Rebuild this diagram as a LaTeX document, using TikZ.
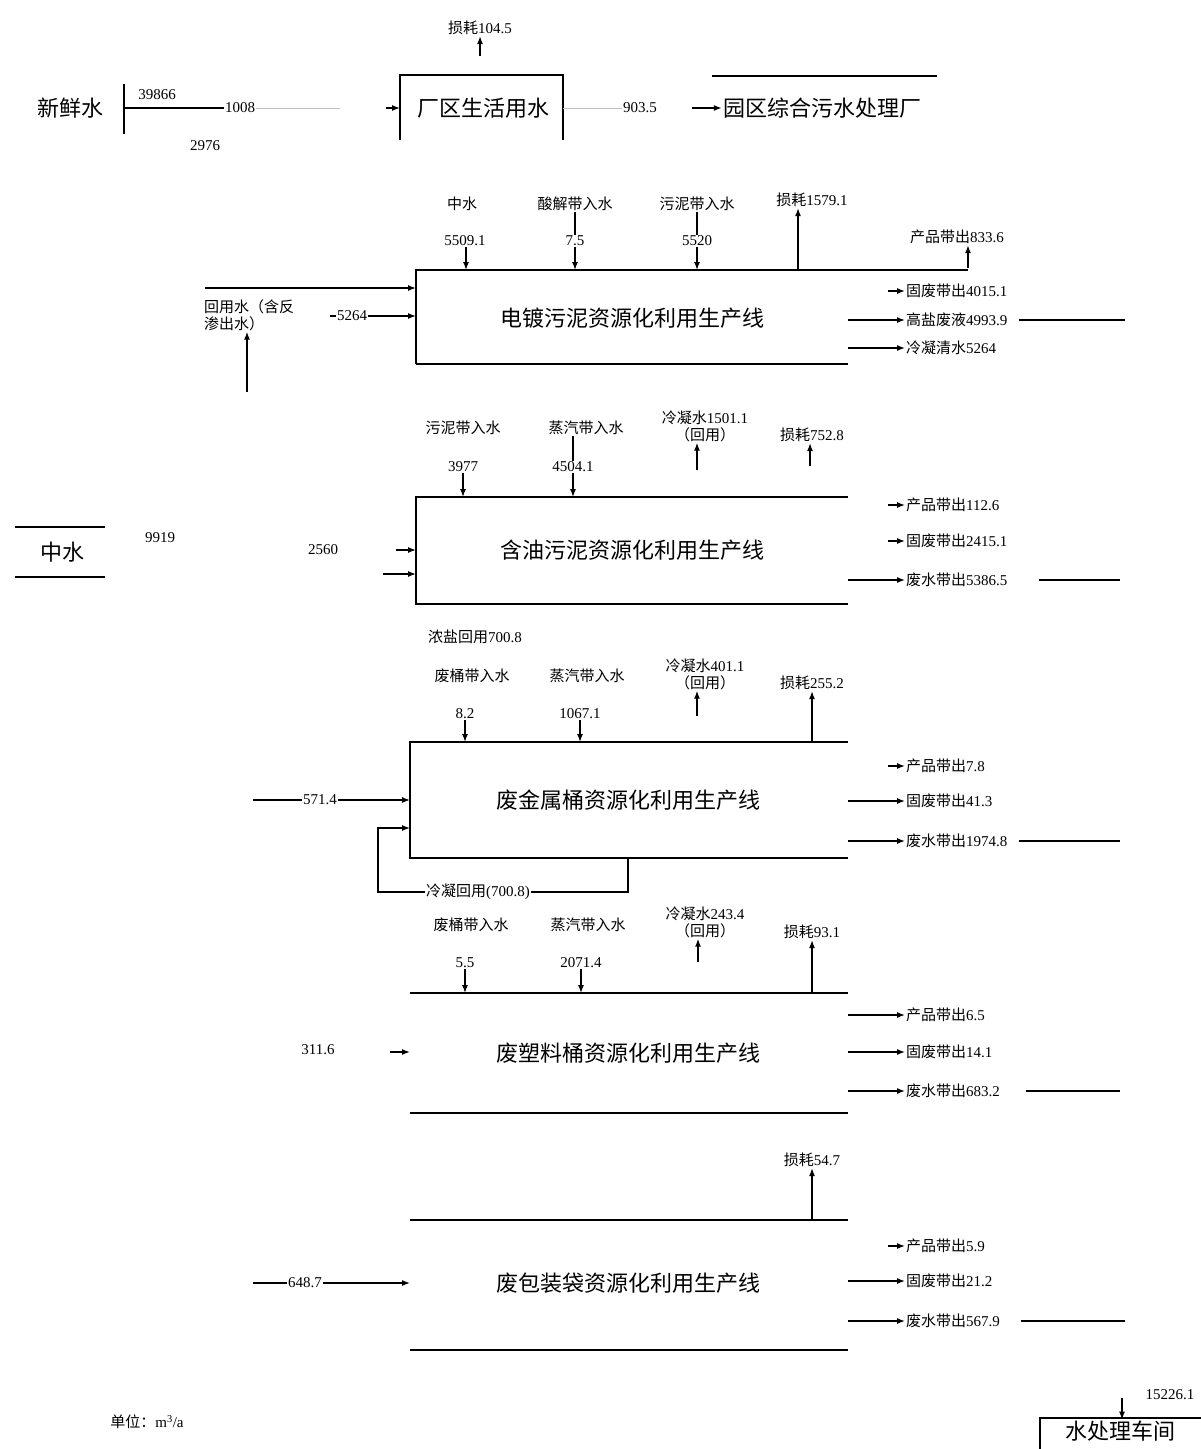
\documentclass[tikz,border=0pt]{standalone}
\usepackage{fontspec}
\setmainfont{Liberation Serif}
\newfontfamily\cjk{Noto Sans CJK SC}
\usetikzlibrary{arrows.meta}
\newcommand\zh[1]{{\cjk #1}}
\begin{document}
\begin{tikzpicture}[x=1pt,y=-1pt]
\tikzset{
 ln/.style={line width=1.5pt},
 thin1/.style={line width=1.2pt},
 arr/.style={line width=1.3pt,-{Latex[length=8pt,width=6pt]}},
 lbl/.style={font=\fontsize{15}{17}\selectfont, inner sep=1pt},
 big/.style={font=\cjk\fontsize{22}{26}\selectfont, inner sep=1pt},
 faint/.style={line width=1pt, black!25},
}
\useasboundingbox (0,0) rectangle (1201,1449);
\fill[white] (0,0) rectangle (1201,1449);

% ---------- top: fresh water ----------
\node[big] (fresh) at (70,108) {新鲜水};
\coordinate (fb1) at (124,84); \coordinate (fb2) at (124,134); \coordinate (fj) at (124,108);
\draw[ln] (fb1) -- (fb2);
\node[lbl] (v39866) at (157,95) {39866};
\node[lbl] (v1008) at (240,108) {1008};
\node[lbl] (v2976) at (205,146) {2976};
\draw[ln] (fj) -- (v1008.west);
\coordinate (ff) at (340,108);
\draw[faint] (v1008.east) -- (ff);
\coordinate (fa) at (386,108); \coordinate (livein) at (400,108);
\draw[arr] (fa) -- (livein);
\node[big] (live) at (483,108) {厂区生活用水};
\draw[ln] (400,140) -- (400,75) -- (563,75) -- (563,140);
\node[lbl] (loss0) at (480,28) {\zh{损耗}104.5};
\coordinate (l0a) at (480,56);
\draw[arr] (l0a) -- (loss0.south);
\node[lbl] (v9035) at (640,108) {903.5};
\coordinate (lo) at (563,108);
\draw[faint] (lo) -- (v9035.west);
\node[big] (park) at (822,108) {园区综合污水处理厂};
\coordinate (pa) at (692,108);
\draw[arr] (pa) -- (park.west);
\draw[ln] (712,76) -- (937,76);

% ---------- line 1 ----------
\draw[ln] (416,364) -- (416,270) -- (968,270);
\draw[ln] (416,364) -- (848,364);
\node[big] (L1) at (632,318) {电镀污泥资源化利用生产线};
\node[lbl] (i11) at (462,204) {\zh{中水}};
\node[lbl] (v11) at (465,241) {5509.1};
\coordinate (b11) at (466,270);
\draw[arr] (v11.south -| b11) -- (b11);
\node[lbl] (i12) at (575,204) {\zh{酸解带入水}};
\node[lbl] (v12) at (575,241) {7.5};
\coordinate (b12) at (575,270);
\draw[thin1] (i12.south) -- (v12.north);
\draw[arr] (v12.south) -- (b12);
\node[lbl] (i13) at (697,204) {\zh{污泥带入水}};
\node[lbl] (v13) at (697,241) {5520};
\coordinate (b13) at (697,270);
\draw[thin1] (i13.south) -- (v13.north);
\draw[arr] (v13.south) -- (b13);
\node[lbl] (o11) at (812,200) {\zh{损耗}1579.1};
\coordinate (b14) at (798,270);
\draw[arr] (b14) -- (o11.south -| b14);
\node[lbl] (o12) at (957,237) {\zh{产品带出}833.6};
\coordinate (b15) at (968,268);
\draw[arr] (b15) -- (o12.south -| b15);
\node[lbl,anchor=west] (o13) at (905,291) {\zh{固废带出}4015.1};
\coordinate (b16) at (888,291);
\draw[arr] (b16) -- (o13.west);
\node[lbl,anchor=west] (o14) at (905,320) {\zh{高盐废液}4993.9};
\coordinate (b17) at (848,320);
\draw[arr] (b17) -- (o14.west);
\coordinate (o14e) at (1125,320);
\draw[ln] ([xshift=10pt]o14.east) -- (o14e);
\node[lbl,anchor=west] (o15) at (905,348) {\zh{冷凝清水}5264};
\coordinate (b18) at (848,348);
\draw[arr] (b18) -- (o15.west);
% left of line 1
\coordinate (r1a) at (205,288); \coordinate (r1b) at (416,288);
\draw[arr] (r1a) -- (r1b);
\node[lbl,anchor=north west,align=left] (reuse) at (203,298) {\zh{回用水（含反}\\\zh{渗出水）}};
\node[lbl] (v5264) at (352,316) {5264};
\coordinate (r2a) at (330,316); \coordinate (r2b) at (416,316);
\draw[thin1] (r2a) -- (v5264.west);
\draw[arr] (v5264.east) -- (r2b);
\coordinate (r3a) at (247,392);
\draw[arr] (r3a) -- (reuse.south -| r3a);

% ---------- line 2 ----------
\draw[ln] (848,497) -- (416,497) -- (416,604) -- (848,604);
\node[big] (L2) at (632,550) {含油污泥资源化利用生产线};
\node[lbl] (i21) at (463,428) {\zh{污泥带入水}};
\node[lbl] (v21) at (463,467) {3977};
\coordinate (b21) at (463,497);
\draw[arr] (v21.south) -- (b21);
\node[lbl] (i22) at (586,428) {\zh{蒸汽带入水}};
\node[lbl] (v22) at (573,467) {4504.1};
\coordinate (b22) at (573,497);
\draw[thin1] (i22.south -| v22) -- (v22.north);
\draw[arr] (v22.south) -- (b22);
\node[lbl,align=center] (o21) at (705,426) {\zh{冷凝水}1501.1\\\zh{（回用）}};
\coordinate (b23) at (697,470);
\draw[arr] (b23) -- (o21.south -| b23);
\node[lbl] (o22) at (812,435) {\zh{损耗}752.8};
\coordinate (b24) at (810,466);
\draw[arr] (b24) -- (o22.south -| b24);
\node[lbl,anchor=west] (o23) at (905,505) {\zh{产品带出}112.6};
\coordinate (b25) at (888,505);
\draw[arr] (b25) -- (o23.west);
\node[lbl,anchor=west] (o24) at (905,541) {\zh{固废带出}2415.1};
\coordinate (b26) at (888,541);
\draw[arr] (b26) -- (o24.west);
\node[lbl,anchor=west] (o25) at (905,580) {\zh{废水带出}5386.5};
\coordinate (b27) at (848,580);
\draw[arr] (b27) -- (o25.west);
\coordinate (o25e) at (1120,580);
\draw[ln] ([xshift=30pt]o25.east) -- (o25e);
% reclaimed water
\node[big] (mid) at (62,552) {中水};
\draw[ln] (15,527) -- (105,527);
\draw[ln] (15,577) -- (105,577);
\node[lbl] (v2a) at (160,538) {9919};
\node[lbl] (v2b) at (323,550) {2560};
\coordinate (m1a) at (396,550); \coordinate (m1b) at (416,550);
\draw[arr] (m1a) -- (m1b);
\coordinate (m2a) at (383,574); \coordinate (m2b) at (416,574);
\draw[arr] (m2a) -- (m2b);

% ---------- line 3 ----------
\draw[ln] (848,742) -- (410,742) -- (410,858) -- (848,858);
\node[big] (L3) at (628,800) {废金属桶资源化利用生产线};
\node[lbl] (t3) at (475,637) {\zh{浓盐回用}700.8};
\node[lbl] (i31) at (472,676) {\zh{废桶带入水}};
\node[lbl] (v31) at (465,714) {8.2};
\coordinate (b31) at (465,742);
\draw[arr] (v31.south) -- (b31);
\node[lbl] (i32) at (587,676) {\zh{蒸汽带入水}};
\node[lbl] (v32) at (580,714) {1067.1};
\coordinate (b32) at (580,742);
\draw[arr] (v32.south) -- (b32);
\node[lbl,align=center] (o31) at (705,674) {\zh{冷凝水}401.1\\\zh{（回用）}};
\coordinate (b33) at (697,716);
\draw[arr] (b33) -- (o31.south -| b33);
\node[lbl] (o32) at (812,683) {\zh{损耗}255.2};
\coordinate (b34) at (812,742);
\draw[arr] (b34) -- (o32.south);
\node[lbl] (v33) at (320,800) {571.4};
\coordinate (s3a) at (253,800); \coordinate (s3b) at (410,800);
\draw[thin1] (s3a) -- (v33.west);
\draw[arr] (v33.east) -- (s3b);
\node[lbl] (v34) at (478,892) {\zh{冷凝回用}(700.8)};
\coordinate (c3a) at (628,858); \coordinate (c3b) at (628,892);
\coordinate (c3c) at (378,892); \coordinate (c3d) at (378,828); \coordinate (c3e) at (410,828);
\draw[thin1] (c3a) -- (c3b) -- (v34.east);
\draw[arr] (v34.west) -- (c3c) -- (c3d) -- (c3e);
\node[lbl,anchor=west] (o33) at (905,766) {\zh{产品带出}7.8};
\coordinate (b35) at (888,766);
\draw[arr] (b35) -- (o33.west);
\node[lbl,anchor=west] (o34) at (905,801) {\zh{固废带出}41.3};
\coordinate (b36) at (848,801);
\draw[arr] (b36) -- (o34.west);
\node[lbl,anchor=west] (o35) at (905,841) {\zh{废水带出}1974.8};
\coordinate (b37) at (848,841);
\draw[arr] (b37) -- (o35.west);
\coordinate (o35e) at (1120,841);
\draw[ln] ([xshift=10pt]o35.east) -- (o35e);

% ---------- line 4 ----------
\draw[ln] (410,993) -- (848,993);
\draw[ln] (410,1113) -- (848,1113);
\node[big] (L4) at (628,1053) {废塑料桶资源化利用生产线};
\node[lbl] (i41) at (471,925) {\zh{废桶带入水}};
\node[lbl] (v41) at (465,963) {5.5};
\coordinate (b41) at (465,993);
\draw[arr] (v41.south) -- (b41);
\node[lbl] (i42) at (588,925) {\zh{蒸汽带入水}};
\node[lbl] (v42) at (581,963) {2071.4};
\coordinate (b42) at (581,993);
\draw[arr] (v42.south) -- (b42);
\node[lbl,align=center] (o41) at (705,922) {\zh{冷凝水}243.4\\\zh{（回用）}};
\coordinate (b43) at (698,962);
\draw[arr] (b43) -- (o41.south -| b43);
\node[lbl] (o42) at (812,932) {\zh{损耗}93.1};
\coordinate (b44) at (812,993);
\draw[arr] (b44) -- (o42.south);
\node[lbl] (v43) at (318,1050) {311.6};
\coordinate (s4a) at (390,1052); \coordinate (s4b) at (410,1052);
\draw[arr] (s4a) -- (s4b);
\node[lbl,anchor=west] (o43) at (905,1015) {\zh{产品带出}6.5};
\coordinate (b45) at (848,1015);
\draw[arr] (b45) -- (o43.west);
\node[lbl,anchor=west] (o44) at (905,1052) {\zh{固废带出}14.1};
\coordinate (b46) at (848,1052);
\draw[arr] (b46) -- (o44.west);
\node[lbl,anchor=west] (o45) at (905,1091) {\zh{废水带出}683.2};
\coordinate (b47) at (848,1091);
\draw[arr] (b47) -- (o45.west);
\coordinate (o45e) at (1120,1091);
\draw[ln] ([xshift=25pt]o45.east) -- (o45e);

% ---------- line 5 ----------
\draw[ln] (410,1220) -- (848,1220);
\draw[ln] (410,1350) -- (848,1350);
\node[big] (L5) at (628,1283) {废包装袋资源化利用生产线};
\node[lbl] (o51) at (812,1160) {\zh{损耗}54.7};
\coordinate (b51) at (812,1220);
\draw[arr] (b51) -- (o51.south);
\node[lbl] (v51) at (305,1283) {648.7};
\coordinate (s5a) at (253,1283); \coordinate (s5b) at (410,1283);
\draw[thin1] (s5a) -- (v51.west);
\draw[arr] (v51.east) -- (s5b);
\node[lbl,anchor=west] (o53) at (905,1246) {\zh{产品带出}5.9};
\coordinate (b53) at (888,1246);
\draw[arr] (b53) -- (o53.west);
\node[lbl,anchor=west] (o54) at (905,1281) {\zh{固废带出}21.2};
\coordinate (b54) at (848,1281);
\draw[arr] (b54) -- (o54.west);
\node[lbl,anchor=west] (o55) at (905,1321) {\zh{废水带出}567.9};
\coordinate (b55) at (848,1321);
\draw[arr] (b55) -- (o55.west);
\coordinate (o55e) at (1125,1321);
\draw[ln] ([xshift=20pt]o55.east) -- (o55e);

% ---------- bottom ----------
\node[lbl] (unit) at (147,1422) {\zh{单位：}m\textsuperscript{3}/a};
\node[lbl] (v15226) at (1170,1395) {15226.1};
\node[big] (wt) at (1120,1431) {水处理车间};
\draw[ln] (1040,1449) -- (1040,1418) -- (1201,1418);
\coordinate (w1) at (1122,1398);
\draw[arr] (w1) -- (wt.north -| w1);
\end{tikzpicture}
\end{document}
